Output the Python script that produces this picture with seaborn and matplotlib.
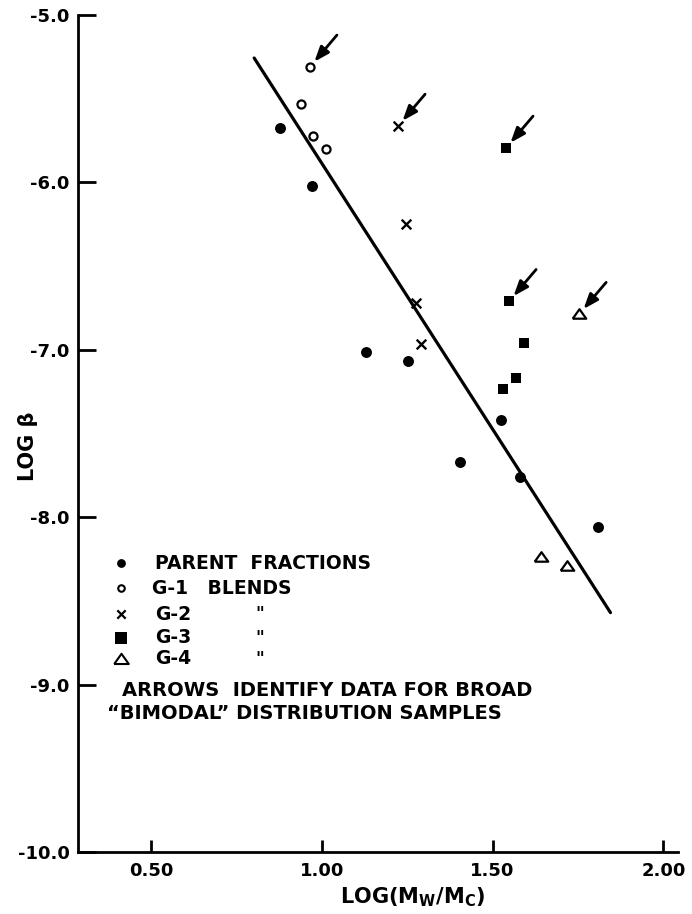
import numpy as np
import pandas as pd
import matplotlib
matplotlib.use("Agg")
import matplotlib.pyplot as plt
from matplotlib.ticker import FixedLocator, FixedFormatter
import seaborn as sns

# --- data: log(Mw/Mc) vs log(beta) ---
parent_x = [0.878, 0.971, 1.129, 1.252, 1.525, 1.405, 1.580, 1.809]
parent_y = [-5.676, -6.023, -7.016, -7.069, -7.422, -7.673, -7.757, -8.056]
parent_bimodal = [False] * 8

g1_x = [0.965, 0.939, 0.974, 1.012]
g1_y = [-5.311, -5.532, -5.724, -5.801]
g1_bimodal = [True, False, False, False]

g2_x = [1.223, 1.246, 1.276, 1.290]
g2_y = [-5.664, -6.250, -6.722, -6.968]
g2_bimodal = [True, False, False, False]

g3_x = [1.539, 1.548, 1.592, 1.569, 1.530]
g3_y = [-5.795, -6.711, -6.962, -7.171, -7.237]
g3_bimodal = [True, True, False, False, False]

g4_x = [1.753, 1.642, 1.718]
g4_y = [-6.788, -8.236, -8.289]
g4_bimodal = [True, False, False]

fit_x = [0.802, 1.845]
fit_y = [-5.257, -8.570]

x_ticks = [0.5, 1.0, 1.5, 2.0]
x_tick_labels = ["0.50", "1.00", "1.50", "2.00"]
y_ticks = [-10, -9, -8, -7, -6, -5]
y_tick_labels = ["-10.0", "-9.0", "-8.0", "-7.0", "-6.0", "-5.0"]

legend_labels = ["PARENT  FRACTIONS", "G-1   BLENDS", "G-2", "G-3", "G-4"]
note_lines = ["ARROWS  IDENTIFY DATA FOR BROAD",
              "\u201cBIMODAL\u201d DISTRIBUTION SAMPLES"]

sns.set_style("ticks")
plt.rcParams["font.family"] = ["DejaVu Sans"]
plt.rcParams["font.weight"] = "bold"
plt.rcParams["text.color"] = "black"
plt.rcParams["axes.labelcolor"] = "black"
plt.rcParams["xtick.color"] = "black"
plt.rcParams["ytick.color"] = "black"

fig = plt.figure(figsize=(6.92, 9.14), dpi=100)
ax = fig.add_axes([0.1127, 0.0678, 0.8671, 0.9158])

tri = [(-1.0, -0.62), (1.0, -0.62), (0.0, 0.78), (-1.0, -0.62)]

groups = [
    ("parent", parent_x, parent_y, parent_bimodal,
     dict(marker="o", s=62, color="black", edgecolor="black", linewidth=0)),
    ("G-1", g1_x, g1_y, g1_bimodal,
     dict(marker="o", s=34, facecolor="white", edgecolor="black", linewidth=1.6)),
    ("G-2", g2_x, g2_y, g2_bimodal,
     dict(marker="x", s=48, color="black", linewidth=1.7)),
    ("G-3", g3_x, g3_y, g3_bimodal,
     dict(marker="s", s=56, color="black", edgecolor="black", linewidth=0)),
    ("G-4", g4_x, g4_y, g4_bimodal,
     dict(marker=tri, s=95, facecolor="white", edgecolor="black", linewidth=1.6)),
]

# fitted line
fit_df = pd.DataFrame({"x": fit_x, "y": fit_y})
sns.lineplot(data=fit_df, x="x", y="y", ax=ax, color="black", linewidth=2.3)

for name, xs, ys, flags, kw in groups:
    df = pd.DataFrame({"x": xs, "y": ys, "bimodal": flags})
    sns.scatterplot(data=df, x="x", y="y", ax=ax, legend=False, zorder=3, **kw)
    for _, row in df[df["bimodal"]].iterrows():
        ax.annotate("", xy=(row["x"], row["y"]), xytext=(19.5, 23),
                    textcoords="offset points",
                    arrowprops=dict(arrowstyle="-|>,head_length=0.9,head_width=0.34",
                                    color="black", lw=2.0, shrinkA=0, shrinkB=5))

ax.set_xlim(0.2863, 2.0427)
ax.set_ylim(-10, -5)

ax.xaxis.set_major_locator(FixedLocator(x_ticks))
ax.xaxis.set_major_formatter(FixedFormatter(x_tick_labels))
ax.yaxis.set_major_locator(FixedLocator(y_ticks))
ax.yaxis.set_major_formatter(FixedFormatter(y_tick_labels))

sns.despine(ax=ax, top=True, right=True)
for side in ("left", "bottom"):
    ax.spines[side].set_linewidth(2.0)
    ax.spines[side].set_color("black")

ax.tick_params(axis="y", direction="in", length=13, width=2.0, pad=6,
               labelsize=13, colors="black")
ax.tick_params(axis="x", direction="in", length=9, width=2.0, pad=7,
               labelsize=13, colors="black")
for lab in ax.get_xticklabels() + ax.get_yticklabels():
    lab.set_fontweight("bold")

ax.set_xlabel(r"LOG(M$_\mathregular{W}$/M$_\mathregular{C}$)", fontsize=15,
              fontweight="bold", color="black")
ax.xaxis.set_label_coords(0.557, -0.054)
ax.xaxis.label.set_va("center")
ax.set_ylabel("LOG \u03b2", fontsize=15, fontweight="bold", color="black")
ax.yaxis.set_label_coords(-0.083, 0.485)
ax.yaxis.label.set_va("center")

# legend block
key_x = 0.0717
key_y = [0.345, 0.315, 0.284, 0.256, 0.231]
key_styles = [
    dict(marker="o", s=40, color="black", linewidth=0),
    dict(marker="o", s=22, facecolor="white", edgecolor="black", linewidth=1.5),
    dict(marker="x", s=36, color="black", linewidth=1.6),
    dict(marker="s", s=70, color="black", linewidth=0),
    dict(marker=tri, s=110, facecolor="white", edgecolor="black", linewidth=1.5),
]
for yy, kw in zip(key_y, key_styles):
    ax.scatter([key_x], [yy], transform=ax.transAxes, clip_on=False, zorder=3, **kw)

text_x = [0.128, 0.123, 0.128, 0.128, 0.128]
for xx, yy, lab in zip(text_x, key_y, legend_labels):
    ax.text(xx, yy, lab, transform=ax.transAxes, fontsize=13.5,
            fontweight="bold", va="center", ha="left", color="black")
for yy in key_y[2:]:
    ax.text(0.295, yy, '"', transform=ax.transAxes, fontsize=12,
            fontweight="bold", va="center", ha="left", color="black")

ax.text(0.073, 0.1935, note_lines[0], transform=ax.transAxes, fontsize=14,
        fontweight="bold", va="center", ha="left", color="black")
ax.text(0.048, 0.166, note_lines[1], transform=ax.transAxes, fontsize=14,
        fontweight="bold", va="center", ha="left", color="black")

fig.savefig("out.png", dpi=100, facecolor="white")
